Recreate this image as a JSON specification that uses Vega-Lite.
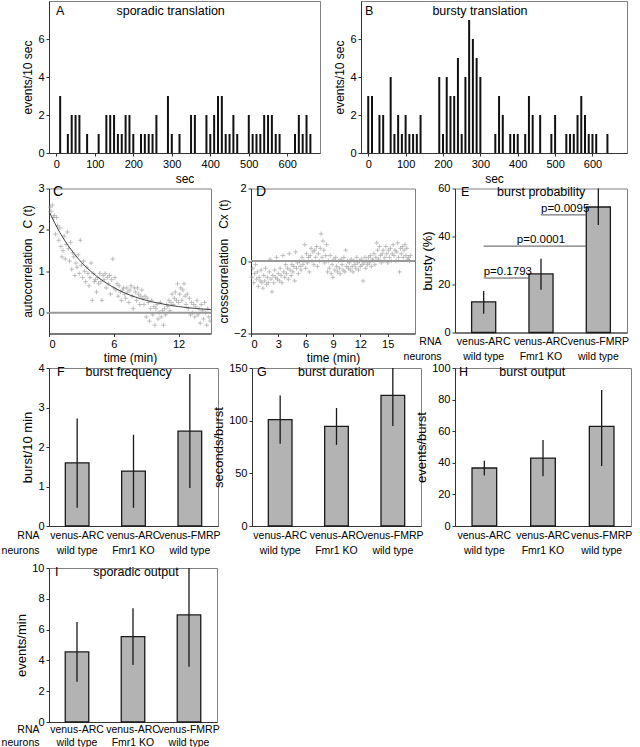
{
"$schema": "https://vega.github.io/schema/vega-lite/v6.json",
"padding": {"left": 0, "top": 0, "right": 0, "bottom": 0},
"spacing": 5,
"config": {
 "font": "Liberation Sans",
 "view": {"stroke": "#808080", "strokeWidth": 1},
 "axis": {"labelFontSize": 11, "titleFontSize": 12, "titleFontWeight": "normal", "labelColor": "#000", "titleColor": "#000", "domainColor": "#333", "tickColor": "#333", "tickSize": 3, "labelPadding": 2, "titlePadding": 3, "grid": false},
 "title": {"fontSize": 12.5, "fontWeight": "normal", "anchor": "start", "frame": "group", "color": "#000", "offset": -16}
},
"datasets": {
 "A": [{"sec":10,"events":3},{"sec":30,"events":1},{"sec":40,"events":2},{"sec":50,"events":2},{"sec":60,"events":2},{"sec":80,"events":1},{"sec":110,"events":1},{"sec":130,"events":2},{"sec":140,"events":2},{"sec":150,"events":2},{"sec":160,"events":1},{"sec":170,"events":1},{"sec":180,"events":2},{"sec":190,"events":2},{"sec":200,"events":1},{"sec":220,"events":1},{"sec":230,"events":1},{"sec":240,"events":1},{"sec":250,"events":1},{"sec":260,"events":2},{"sec":290,"events":3},{"sec":300,"events":1},{"sec":320,"events":1},{"sec":350,"events":2},{"sec":360,"events":2},{"sec":390,"events":2},{"sec":400,"events":1},{"sec":410,"events":2},{"sec":420,"events":3},{"sec":430,"events":3},{"sec":440,"events":1},{"sec":450,"events":1},{"sec":460,"events":2},{"sec":470,"events":1},{"sec":500,"events":2},{"sec":510,"events":1},{"sec":520,"events":1},{"sec":530,"events":1},{"sec":540,"events":2},{"sec":550,"events":2},{"sec":560,"events":2},{"sec":570,"events":1},{"sec":580,"events":1},{"sec":620,"events":1},{"sec":630,"events":2},{"sec":640,"events":1},{"sec":650,"events":2},{"sec":660,"events":1}],
 "B": [{"sec":0,"events":3},{"sec":10,"events":3},{"sec":30,"events":2},{"sec":40,"events":2},{"sec":60,"events":4},{"sec":70,"events":1},{"sec":80,"events":2},{"sec":90,"events":1},{"sec":100,"events":2},{"sec":110,"events":1},{"sec":120,"events":1},{"sec":130,"events":1},{"sec":140,"events":2},{"sec":190,"events":4},{"sec":200,"events":1},{"sec":210,"events":4},{"sec":220,"events":3},{"sec":230,"events":3},{"sec":240,"events":5},{"sec":250,"events":1},{"sec":260,"events":4},{"sec":270,"events":7},{"sec":280,"events":6},{"sec":290,"events":5},{"sec":300,"events":4},{"sec":340,"events":1},{"sec":350,"events":3},{"sec":360,"events":2},{"sec":380,"events":1},{"sec":390,"events":1},{"sec":400,"events":1},{"sec":420,"events":1},{"sec":430,"events":3},{"sec":440,"events":2},{"sec":460,"events":2},{"sec":490,"events":1},{"sec":500,"events":2},{"sec":530,"events":1},{"sec":540,"events":1},{"sec":550,"events":1},{"sec":560,"events":2},{"sec":570,"events":3},{"sec":580,"events":2},{"sec":590,"events":1},{"sec":600,"events":1},{"sec":610,"events":1},{"sec":640,"events":1}],
 "Cpts": [{"t":0.1,"c":2.55},{"t":0.2,"c":2.45},{"t":0.3,"c":2.6},{"t":0.4,"c":2.3},{"t":0.5,"c":2.35},{"t":0.6,"c":1.9},{"t":0.7,"c":2.3},{"t":0.8,"c":2.1},{"t":0.9,"c":1.75},{"t":1.0,"c":2.05},{"t":1.1,"c":1.6},{"t":1.2,"c":1.35},{"t":1.3,"c":1.5},{"t":1.4,"c":1.85},{"t":1.5,"c":1.3},{"t":1.6,"c":1.65},{"t":1.7,"c":1.95},{"t":1.8,"c":1.55},{"t":1.9,"c":1.25},{"t":2.0,"c":1.7},{"t":2.1,"c":1.05},{"t":2.2,"c":1.45},{"t":2.3,"c":1.35},{"t":2.4,"c":0.9},{"t":2.5,"c":1.2},{"t":2.6,"c":1.1},{"t":2.7,"c":1.4},{"t":2.8,"c":0.95},{"t":2.9,"c":1.75},{"t":3.0,"c":1.15},{"t":3.1,"c":0.85},{"t":3.2,"c":1.25},{"t":3.3,"c":1.0},{"t":3.4,"c":0.75},{"t":3.5,"c":1.1},{"t":3.6,"c":0.95},{"t":3.7,"c":0.65},{"t":3.8,"c":0.85},{"t":3.9,"c":1.2},{"t":4.0,"c":0.3},{"t":4.1,"c":0.95},{"t":4.2,"c":0.75},{"t":4.3,"c":0.8},{"t":4.4,"c":0.5},{"t":4.5,"c":0.85},{"t":4.6,"c":0.7},{"t":4.7,"c":0.95},{"t":4.8,"c":0.75},{"t":4.9,"c":0.3},{"t":5.0,"c":0.9},{"t":5.1,"c":0.8},{"t":5.2,"c":0.95},{"t":5.3,"c":0.6},{"t":5.4,"c":0.85},{"t":5.5,"c":0.7},{"t":5.6,"c":0.9},{"t":5.7,"c":0.45},{"t":5.8,"c":0.8},{"t":5.9,"c":1.3},{"t":6.0,"c":0.6},{"t":6.1,"c":0.85},{"t":6.2,"c":0.55},{"t":6.3,"c":0.7},{"t":6.4,"c":0.4},{"t":6.5,"c":0.65},{"t":6.6,"c":0.5},{"t":6.7,"c":0.3},{"t":6.8,"c":0.55},{"t":6.9,"c":0.6},{"t":7.0,"c":0.45},{"t":7.1,"c":0.35},{"t":7.2,"c":0.6},{"t":7.3,"c":0.5},{"t":7.4,"c":0.25},{"t":7.5,"c":0.55},{"t":7.6,"c":0.65},{"t":7.7,"c":0.4},{"t":7.8,"c":0.1},{"t":7.9,"c":0.6},{"t":8.0,"c":0.5},{"t":8.1,"c":0.3},{"t":8.2,"c":0.6},{"t":8.3,"c":0.45},{"t":8.4,"c":0.2},{"t":8.5,"c":0.4},{"t":8.6,"c":0.55},{"t":8.7,"c":0.35},{"t":8.8,"c":0.2},{"t":8.9,"c":0.4},{"t":9.0,"c":-0.1},{"t":9.1,"c":0.35},{"t":9.2,"c":0.25},{"t":9.3,"c":-0.2},{"t":9.4,"c":0.1},{"t":9.5,"c":0.3},{"t":9.6,"c":-0.05},{"t":9.7,"c":0.15},{"t":9.8,"c":-0.3},{"t":9.9,"c":0.1},{"t":10.0,"c":0.2},{"t":10.1,"c":-0.15},{"t":10.2,"c":0.0},{"t":10.3,"c":0.25},{"t":10.4,"c":-0.1},{"t":10.5,"c":0.05},{"t":10.6,"c":-0.3},{"t":10.7,"c":0.1},{"t":10.8,"c":-0.05},{"t":10.9,"c":0.2},{"t":11.0,"c":0.15},{"t":11.1,"c":0.3},{"t":11.2,"c":0.05},{"t":11.3,"c":0.25},{"t":11.4,"c":0.45},{"t":11.5,"c":0.2},{"t":11.6,"c":0.35},{"t":11.7,"c":0.5},{"t":11.8,"c":0.3},{"t":11.9,"c":0.7},{"t":12.0,"c":0.25},{"t":12.1,"c":0.45},{"t":12.2,"c":0.6},{"t":12.3,"c":0.3},{"t":12.4,"c":0.55},{"t":12.5,"c":0.7},{"t":12.6,"c":0.4},{"t":12.7,"c":0.2},{"t":12.8,"c":0.45},{"t":12.9,"c":0.1},{"t":13.0,"c":0.35},{"t":13.1,"c":-0.05},{"t":13.2,"c":0.25},{"t":13.3,"c":0.0},{"t":13.4,"c":0.2},{"t":13.5,"c":-0.1},{"t":13.6,"c":0.15},{"t":13.7,"c":0.3},{"t":13.8,"c":-0.05},{"t":13.9,"c":0.1},{"t":14.0,"c":-0.25},{"t":14.1,"c":0.2},{"t":14.2,"c":0.05},{"t":14.3,"c":-0.15},{"t":14.4,"c":0.25},{"t":14.5,"c":0.0},{"t":14.6,"c":-0.3},{"t":14.7,"c":0.1},{"t":14.8,"c":-0.1},{"t":14.9,"c":-0.2}],
 "Cfit": [{"t":0,"c":2.45},{"t":1,"c":1.94},{"t":2,"c":1.54},{"t":3,"c":1.22},{"t":4,"c":0.97},{"t":5,"c":0.77},{"t":6,"c":0.61},{"t":7,"c":0.48},{"t":8,"c":0.38},{"t":9,"c":0.3},{"t":10,"c":0.24},{"t":11,"c":0.19},{"t":12,"c":0.15},{"t":13,"c":0.12},{"t":14,"c":0.095},{"t":15,"c":0.075}],
 "Dpts": [{"t":0.1,"c":-0.45},{"t":0.2,"c":-0.2},{"t":0.3,"c":-0.6},{"t":0.4,"c":-0.35},{"t":0.5,"c":-0.1},{"t":0.6,"c":-0.5},{"t":0.7,"c":-0.3},{"t":0.8,"c":-0.7},{"t":0.9,"c":-0.45},{"t":1.0,"c":-0.55},{"t":1.1,"c":-0.25},{"t":1.2,"c":-0.6},{"t":1.3,"c":-0.75},{"t":1.4,"c":-0.4},{"t":1.5,"c":-0.55},{"t":1.6,"c":-0.2},{"t":1.7,"c":-0.65},{"t":1.8,"c":-0.45},{"t":1.9,"c":-0.6},{"t":2.0,"c":-0.3},{"t":2.1,"c":0.05},{"t":2.2,"c":-0.5},{"t":2.3,"c":-0.85},{"t":2.4,"c":-0.4},{"t":2.5,"c":-0.6},{"t":2.6,"c":-0.25},{"t":2.7,"c":-0.45},{"t":2.8,"c":0.1},{"t":2.9,"c":-0.5},{"t":3.0,"c":-0.35},{"t":3.1,"c":-0.55},{"t":3.2,"c":-0.2},{"t":3.3,"c":-0.4},{"t":3.4,"c":-0.6},{"t":3.5,"c":0.15},{"t":3.6,"c":-0.3},{"t":3.7,"c":-0.45},{"t":3.8,"c":-0.1},{"t":3.9,"c":-0.35},{"t":4.0,"c":-0.2},{"t":4.1,"c":-0.5},{"t":4.2,"c":0.2},{"t":4.3,"c":-0.25},{"t":4.4,"c":-0.4},{"t":4.5,"c":-0.1},{"t":4.6,"c":-0.3},{"t":4.7,"c":-0.15},{"t":4.8,"c":-0.55},{"t":4.9,"c":0.25},{"t":5.0,"c":-0.2},{"t":5.1,"c":-0.05},{"t":5.2,"c":-0.35},{"t":5.3,"c":0.0},{"t":5.4,"c":-0.15},{"t":5.5,"c":-0.25},{"t":5.6,"c":0.1},{"t":5.7,"c":-0.1},{"t":5.8,"c":0.0},{"t":5.9,"c":0.45},{"t":6.0,"c":-0.2},{"t":6.1,"c":0.2},{"t":6.2,"c":-0.05},{"t":6.3,"c":0.1},{"t":6.4,"c":-0.3},{"t":6.5,"c":0.15},{"t":6.6,"c":0.35},{"t":6.7,"c":0.0},{"t":6.8,"c":0.25},{"t":6.9,"c":-0.1},{"t":7.0,"c":0.3},{"t":7.1,"c":0.1},{"t":7.2,"c":0.4},{"t":7.3,"c":-0.15},{"t":7.4,"c":0.2},{"t":7.5,"c":0.0},{"t":7.6,"c":0.35},{"t":7.7,"c":0.75},{"t":7.8,"c":0.1},{"t":7.9,"c":0.55},{"t":8.0,"c":0.3},{"t":8.1,"c":-0.05},{"t":8.2,"c":0.15},{"t":8.3,"c":0.45},{"t":8.4,"c":-0.3},{"t":8.5,"c":0.0},{"t":8.6,"c":-0.2},{"t":8.7,"c":0.15},{"t":8.8,"c":-0.35},{"t":8.9,"c":-0.1},{"t":9.0,"c":-0.45},{"t":9.1,"c":0.05},{"t":9.2,"c":-0.25},{"t":9.3,"c":0.1},{"t":9.4,"c":-0.15},{"t":9.5,"c":-0.3},{"t":9.6,"c":0.0},{"t":9.7,"c":-0.2},{"t":9.8,"c":-0.35},{"t":9.9,"c":0.05},{"t":10.0,"c":-0.1},{"t":10.1,"c":-0.25},{"t":10.2,"c":0.1},{"t":10.3,"c":-0.3},{"t":10.4,"c":0.3},{"t":10.5,"c":-0.15},{"t":10.6,"c":0.0},{"t":10.7,"c":-0.2},{"t":10.8,"c":-0.05},{"t":10.9,"c":-0.25},{"t":11.0,"c":0.05},{"t":11.1,"c":-0.15},{"t":11.2,"c":-0.3},{"t":11.3,"c":0.0},{"t":11.4,"c":-0.1},{"t":11.5,"c":-0.2},{"t":11.6,"c":0.1},{"t":11.7,"c":-0.05},{"t":11.8,"c":-0.25},{"t":11.9,"c":0.0},{"t":12.0,"c":-0.15},{"t":12.1,"c":0.05},{"t":12.2,"c":-0.1},{"t":12.3,"c":-0.55},{"t":12.4,"c":-0.05},{"t":12.5,"c":0.1},{"t":12.6,"c":-0.2},{"t":12.7,"c":0.0},{"t":12.8,"c":-0.1},{"t":12.9,"c":0.1},{"t":13.0,"c":-0.05},{"t":13.1,"c":0.15},{"t":13.2,"c":-0.15},{"t":13.3,"c":0.05},{"t":13.4,"c":0.0},{"t":13.5,"c":0.2},{"t":13.6,"c":-0.1},{"t":13.7,"c":0.1},{"t":13.8,"c":0.5},{"t":13.9,"c":0.3},{"t":14.0,"c":0.05},{"t":14.1,"c":0.4},{"t":14.2,"c":0.15},{"t":14.3,"c":-0.05},{"t":14.4,"c":0.2},{"t":14.5,"c":0.3},{"t":14.6,"c":0.0},{"t":14.7,"c":0.1},{"t":14.8,"c":0.4},{"t":14.9,"c":0.2},{"t":15.0,"c":-0.05},{"t":15.1,"c":0.3},{"t":15.2,"c":0.1},{"t":15.3,"c":0.35},{"t":15.4,"c":0.0},{"t":15.5,"c":0.2},{"t":15.6,"c":0.45},{"t":15.7,"c":0.15},{"t":15.8,"c":0.3},{"t":15.9,"c":0.0},{"t":16.0,"c":0.25},{"t":16.1,"c":0.5},{"t":16.2,"c":0.1},{"t":16.3,"c":-0.3},{"t":16.4,"c":0.35},{"t":16.5,"c":0.2},{"t":16.6,"c":0.4},{"t":16.7,"c":0.1},{"t":16.8,"c":0.3},{"t":16.9,"c":0.45},{"t":17.0,"c":0.15},{"t":17.1,"c":0.35},{"t":17.2,"c":0.05},{"t":17.3,"c":0.1},{"t":17.4,"c":0.0},{"t":17.5,"c":0.15}],
 "zero": [{"c": 0}],
 "E": [{"condition":"venus-ARC wild type","mean":12.8,"lo":7.8,"hi":17.3},{"condition":"venus-ARC Fmr1 KO","mean":24.4,"lo":17.8,"hi":30.7},{"condition":"venus-FMRP wild type","mean":52.3,"lo":44.8,"hi":61}],
 "Ep": [{"from":"venus-ARC wild type","to":"venus-ARC Fmr1 KO","labelAt":"venus-ARC wild type","level":22.7,"label":"p=0.1793"},{"from":"venus-ARC wild type","to":"venus-FMRP wild type","labelAt":"venus-ARC Fmr1 KO","level":36,"label":"p=0.0001"},{"from":"venus-ARC Fmr1 KO","to":"venus-FMRP wild type","labelAt":"venus-ARC Fmr1 KO","level":49,"label":"p=0.0095"}],
 "F": [{"condition":"venus-ARC wild type","mean":1.6,"lo":0.46,"hi":2.72},{"condition":"venus-ARC Fmr1 KO","mean":1.39,"lo":0.46,"hi":2.31},{"condition":"venus-FMRP wild type","mean":2.4,"lo":0.96,"hi":3.85}],
 "G": [{"condition":"venus-ARC wild type","mean":101,"lo":78,"hi":124},{"condition":"venus-ARC Fmr1 KO","mean":94.5,"lo":77,"hi":112},{"condition":"venus-FMRP wild type","mean":124,"lo":95,"hi":155}],
 "H": [{"condition":"venus-ARC wild type","mean":36.7,"lo":32,"hi":41.3},{"condition":"venus-ARC Fmr1 KO","mean":43,"lo":31.5,"hi":54.5},{"condition":"venus-FMRP wild type","mean":63,"lo":38,"hi":86}],
 "I": [{"condition":"venus-ARC wild type","mean":4.55,"lo":2.62,"hi":6.5},{"condition":"venus-ARC Fmr1 KO","mean":5.55,"lo":3.7,"hi":7.38},{"condition":"venus-FMRP wild type","mean":6.95,"lo":3.58,"hi":10.5}]
},
"vconcat": [
 {"spacing": -3.5, "vconcat": [
  {"bounds": "flush", "spacing": 41, "hconcat": [
   {"width": 271, "height": 152,
    "title": {"text": "A\u00a0\u00a0\u00a0\u00a0\u00a0\u00a0\u00a0\u00a0\u00a0\u00a0\u00a0\u00a0\u00a0\u00a0\u00a0sporadic translation", "dx": 7},
    "data": {"name": "A"},
    "mark": {"type": "bar", "color": "#111", "size": 2},
    "encoding": {
     "x": {"field": "sec", "type": "quantitative", "scale": {"domain": [-6, 672], "nice": false, "zero": false}, "axis": {"values": [0,100,200,300,400,500,600], "title": "sec", "titlePadding": 4}},
     "y": {"field": "events", "type": "quantitative", "scale": {"domain": [0, 8], "nice": false}, "axis": {"values": [0,2,4,6], "title": "events/10 sec"}}
    }},
   {"width": 266, "height": 152,
    "title": {"text": "B\u00a0\u00a0\u00a0\u00a0\u00a0\u00a0\u00a0\u00a0\u00a0\u00a0\u00a0\u00a0\u00a0\u00a0\u00a0\u00a0\u00a0bursty translation", "dx": 4},
    "data": {"name": "B"},
    "mark": {"type": "bar", "color": "#111", "size": 2},
    "encoding": {
     "x": {"field": "sec", "type": "quantitative", "scale": {"domain": [-6, 679], "nice": false, "zero": false}, "axis": {"values": [0,100,200,300,400,500,600], "title": "sec", "titlePadding": 4}},
     "y": {"field": "events", "type": "quantitative", "scale": {"domain": [0, 8], "nice": false}, "axis": {"values": [0,2,4,6], "title": "events/10 sec"}}
    }}
  ]},
  {"bounds": "flush", "spacing": 40, "hconcat": [
   {"width": 162, "height": 145,
     "title": {"text": "C", "dx": 4, "fontSize": 14},
     "layer": [
      {"data": {"name": "Cpts"}, "mark": {"type": "point", "shape": "M-1,0H1M0,-1V1", "filled": false, "stroke": "#9a9a9a", "strokeWidth": 0.9, "size": 20},
       "encoding": {
        "x": {"field": "t", "type": "quantitative", "scale": {"domain": [0, 15], "nice": false}, "axis": {"values": [0,3,6,9,12,15], "title": "time (min)"}},
        "y": {"field": "c", "type": "quantitative", "scale": {"domain": [-0.5, 3], "nice": false}, "axis": {"values": [0,1,2,3], "title": "autocorrelation\u00a0\u00a0\u00a0C (t)"}}}},
      {"data": {"name": "Cfit"}, "mark": {"type": "line", "color": "#444", "strokeWidth": 1, "interpolate": "monotone"},
       "encoding": {"x": {"field": "t", "type": "quantitative"}, "y": {"field": "c", "type": "quantitative"}}},
      {"data": {"name": "zero"}, "mark": {"type": "rule", "color": "#999", "strokeWidth": 2},
       "encoding": {"y": {"field": "c", "type": "quantitative"}}}
     ]},
   {"width": 164, "height": 145,
     "title": {"text": "D", "dx": 5, "fontSize": 14},
     "layer": [
      {"data": {"name": "Dpts"}, "mark": {"type": "point", "shape": "M-1,0H1M0,-1V1", "filled": false, "stroke": "#9a9a9a", "strokeWidth": 0.9, "size": 20},
       "encoding": {
        "x": {"field": "t", "type": "quantitative", "scale": {"domain": [0, 18], "nice": false}, "axis": {"values": [0,3,6,9,12,15], "title": "time (min)"}},
        "y": {"field": "c", "type": "quantitative", "scale": {"domain": [-2, 2], "nice": false}, "axis": {"values": [-2,-1,0,1,2], "title": "crosscorrelation\u00a0\u00a0\u00a0Cx (t)"}}}},
      {"data": {"name": "zero"}, "mark": {"type": "rule", "color": "#999", "strokeWidth": 2},
       "encoding": {"y": {"field": "c", "type": "quantitative"}}}
     ]},
   {"width": 172, "height": 144,
    "title": {"text": "E\u00a0\u00a0\u00a0\u00a0\u00a0\u00a0\u00a0\u00a0burst probability", "dx": 6},
    "layer": [
     {"data": {"name": "E"}, "mark": {"type": "bar", "fill": "#b3b3b3", "stroke": "#1a1a1a", "strokeWidth": 1.3},
      "encoding": {
       "x": {"field": "condition", "type": "nominal", "scale": {"domain": ["venus-ARC wild type","venus-ARC Fmr1 KO","venus-FMRP wild type"], "paddingInner": 0.58, "paddingOuter": 0.29},
             "axis": {"title": ["RNA", "neurons"], "titleAlign": "right", "titleAnchor": "start", "titleX": -14, "titleY": 4, "titleBaseline": "top", "titleFontSize": 10.5, "titleLineHeight": 15, "labelAngle": 0, "ticks": false, "labelPadding": 4, "labelFontSize": 10.5, "labelLineHeight": 15, "labelExpr": "[substring(datum.value, 0, indexof(datum.value, ' ')), substring(datum.value, indexof(datum.value, ' ') + 1)]"}},
       "y": {"field": "mean", "type": "quantitative", "scale": {"domain": [0, 60], "nice": false}, "axis": {"values": [0,20,40,60], "title": "bursty (%)", "titleFontSize": 13}}}},
     {"data": {"name": "E"}, "mark": {"type": "rule", "color": "#1a1a1a", "strokeWidth": 1.3, "clip": true},
      "encoding": {"x": {"field": "condition", "type": "nominal"}, "y": {"field": "lo", "type": "quantitative"}, "y2": {"field": "hi"}}},
     {"data": {"name": "Ep"}, "mark": {"type": "rule", "color": "#555", "strokeWidth": 1},
      "encoding": {"x": {"field": "from", "type": "nominal", "bandPosition": 0.5}, "x2": {"field": "to", "bandPosition": 0}, "y": {"field": "level", "type": "quantitative"}}},
     {"data": {"name": "Ep"}, "transform": [{"filter": "datum.label != 'p=0.0001'"}], "mark": {"type": "text", "align": "left", "baseline": "bottom", "dy": -1, "fontSize": 11.5},
      "encoding": {"x": {"field": "labelAt", "type": "nominal", "bandPosition": 0.5}, "y": {"field": "level", "type": "quantitative"}, "text": {"field": "label"}}},
     {"data": {"name": "Ep"}, "transform": [{"filter": "datum.label == 'p=0.0001'"}], "mark": {"type": "text", "align": "center", "baseline": "bottom", "dy": -1, "fontSize": 11.5},
      "encoding": {"x": {"field": "labelAt", "type": "nominal", "bandPosition": 0.5}, "y": {"field": "level", "type": "quantitative"}, "text": {"field": "label"}}}
    ]}
  ]},
  {"bounds": "flush", "spacing": 34, "hconcat": [
   {"width": 169, "height": 158,
    "title": {"text": "F\u00a0\u00a0\u00a0\u00a0\u00a0\u00a0burst frequency", "dx": 8},
    "data": {"name": "F"},
    "encoding": {
     "x": {"field": "condition", "type": "nominal", "scale": {"domain": ["venus-ARC wild type","venus-ARC Fmr1 KO","venus-FMRP wild type"], "paddingInner": 0.58, "paddingOuter": 0.29},
           "axis": {"title": ["RNA", "neurons"], "titleAlign": "right", "titleAnchor": "start", "titleX": -10, "titleY": 4, "titleBaseline": "top", "titleFontSize": 10.5, "titleLineHeight": 15, "labelAngle": 0, "ticks": false, "labelPadding": 4, "labelFontSize": 10.5, "labelLineHeight": 15, "labelExpr": "[substring(datum.value, 0, indexof(datum.value, ' ')), substring(datum.value, indexof(datum.value, ' ') + 1)]"}},
     "y": {"field": "mean", "type": "quantitative", "scale": {"domain": [0, 4], "nice": false}, "axis": {"values": [0,1,2,3,4], "title": "burst/10 min", "titleFontSize": 13}}},
    "layer": [
     {"mark": {"type": "bar", "fill": "#b3b3b3", "stroke": "#1a1a1a", "strokeWidth": 1.3}},
     {"mark": {"type": "rule", "color": "#1a1a1a", "strokeWidth": 1.3, "clip": true}, "encoding": {"y": {"field": "lo", "type": "quantitative"}, "y2": {"field": "hi"}}}
    ]},
   {"width": 169, "height": 158,
    "title": {"text": "G\u00a0\u00a0\u00a0\u00a0\u00a0\u00a0\u00a0\u00a0\u00a0burst duration", "dx": 5},
    "data": {"name": "G"},
    "encoding": {
     "x": {"field": "condition", "type": "nominal", "scale": {"domain": ["venus-ARC wild type","venus-ARC Fmr1 KO","venus-FMRP wild type"], "paddingInner": 0.58, "paddingOuter": 0.29},
           "axis": {"title": null, "labelAngle": 0, "ticks": false, "labelPadding": 4, "labelFontSize": 10.5, "labelLineHeight": 15, "labelExpr": "[substring(datum.value, 0, indexof(datum.value, ' ')), substring(datum.value, indexof(datum.value, ' ') + 1)]"}},
     "y": {"field": "mean", "type": "quantitative", "scale": {"domain": [0, 150], "nice": false}, "axis": {"values": [0,50,100,150], "title": "seconds/burst", "titleFontSize": 13}}},
    "layer": [
     {"mark": {"type": "bar", "fill": "#b3b3b3", "stroke": "#1a1a1a", "strokeWidth": 1.3}},
     {"mark": {"type": "rule", "color": "#1a1a1a", "strokeWidth": 1.3, "clip": true}, "encoding": {"y": {"field": "lo", "type": "quantitative"}, "y2": {"field": "hi"}}}
    ]},
   {"width": 176, "height": 158,
    "title": {"text": "H\u00a0\u00a0\u00a0\u00a0\u00a0\u00a0\u00a0\u00a0\u00a0burst output", "dx": 4},
    "data": {"name": "H"},
    "encoding": {
     "x": {"field": "condition", "type": "nominal", "scale": {"domain": ["venus-ARC wild type","venus-ARC Fmr1 KO","venus-FMRP wild type"], "paddingInner": 0.58, "paddingOuter": 0.29},
           "axis": {"title": null, "labelAngle": 0, "ticks": false, "labelPadding": 4, "labelFontSize": 10.5, "labelLineHeight": 15, "labelExpr": "[substring(datum.value, 0, indexof(datum.value, ' ')), substring(datum.value, indexof(datum.value, ' ') + 1)]"}},
     "y": {"field": "mean", "type": "quantitative", "scale": {"domain": [0, 100], "nice": false}, "axis": {"values": [0,20,40,60,80,100], "title": "events/burst", "titleFontSize": 13}}},
    "layer": [
     {"mark": {"type": "bar", "fill": "#b3b3b3", "stroke": "#1a1a1a", "strokeWidth": 1.3}},
     {"mark": {"type": "rule", "color": "#1a1a1a", "strokeWidth": 1.3, "clip": true}, "encoding": {"y": {"field": "lo", "type": "quantitative"}, "y2": {"field": "hi"}}}
    ]}
  ]}
 ]},
 {"width": 168, "height": 154,
  "title": {"text": "I\u00a0\u00a0\u00a0\u00a0\u00a0\u00a0\u00a0\u00a0\u00a0\u00a0sporadic output", "dx": 6},
  "data": {"name": "I"},
  "encoding": {
   "x": {"field": "condition", "type": "nominal", "scale": {"domain": ["venus-ARC wild type","venus-ARC Fmr1 KO","venus-FMRP wild type"], "paddingInner": 0.58, "paddingOuter": 0.29},
         "axis": {"title": ["RNA", "neurons"], "titleAlign": "right", "titleAnchor": "start", "titleX": -10, "titleY": 2, "titleBaseline": "top", "titleFontSize": 10.5, "titleLineHeight": 13, "labelAngle": 0, "ticks": false, "labelPadding": 2, "labelFontSize": 10.5, "labelLineHeight": 13, "labelExpr": "[substring(datum.value, 0, indexof(datum.value, ' ')), substring(datum.value, indexof(datum.value, ' ') + 1)]"}},
   "y": {"field": "mean", "type": "quantitative", "scale": {"domain": [0, 10], "nice": false}, "axis": {"values": [0,2,4,6,8,10], "title": "events/min", "titleFontSize": 13}}},
  "layer": [
   {"mark": {"type": "bar", "fill": "#b3b3b3", "stroke": "#1a1a1a", "strokeWidth": 1.3}},
   {"mark": {"type": "rule", "color": "#1a1a1a", "strokeWidth": 1.3, "clip": true}, "encoding": {"y": {"field": "lo", "type": "quantitative"}, "y2": {"field": "hi"}}}
  ]}
]
}
